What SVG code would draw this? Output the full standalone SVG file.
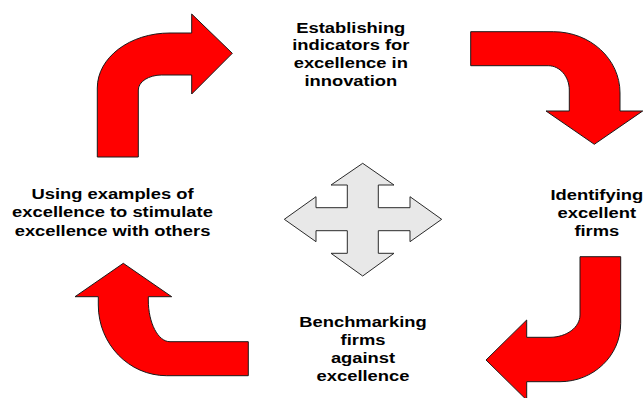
<svg xmlns="http://www.w3.org/2000/svg" width="644" height="398" viewBox="0 0 644 398">
  <style>
    .bend { fill: #ff0000; stroke: #1a1a1a; stroke-width: 1; stroke-linejoin: miter; }
    .hub { fill: #e8e8e8; stroke: #2a2a2a; stroke-width: 1; }
    .label { font-family: "Liberation Sans", Arial, sans-serif; font-weight: bold; font-size: 15.3px; fill: #000; text-anchor: middle; }
  </style>
  <rect width="644" height="398" fill="#ffffff"/>

  <!-- curved arrows linking the four stages -->
  <g id="connectors">
    <path id="arrow-top-left" class="bend" d="M97.3,157 L97.3,88 C97.3,57.6 129.7,33 170,33 L191.7,33 L191.7,14 L232.3,53.3 L191.7,94 L191.7,75 L161.7,75 C148.8,75 138.3,81.7 138.3,90 L138.3,157 Z"/>
    <path id="arrow-top-right" class="bend" d="M470.7,31.7 L553.3,31.7 C590.3,31.7 620,59 620,93 L620,111 L642.7,111 L594.3,144.3 L546,111 L569.3,111 L569.3,90 C569.3,76.6 559.9,65.7 548.3,65.7 L470.7,65.7 Z"/>
    <path id="arrow-bottom-right" class="bend" d="M580,256.7 L620.7,256.7 L620.7,323.3 C620.7,355.6 593.5,381.7 560,381.7 L526.7,381.7 L526.7,400 L486,360 L526.7,320 L526.7,337.3 L550,337.3 C566.6,337.3 580,327.3 580,315 Z"/>
    <path id="arrow-bottom-left" class="bend" d="M248.3,375.7 L166.7,375.7 C128.9,375.7 98.3,344 98.3,305 L98.3,296.7 L75,296.7 L123.3,263.3 L171.7,296.7 L148.3,296.7 L148.3,300 C148.3,323 158,341.7 170,341.7 L248.3,341.7 Z"/>
  </g>

  <!-- four-way arrow in the middle -->
  <g id="hub">
    <path class="hub" d="M362.7,163.3 L394,185 L378.3,185 L378.3,207.7 L410,207.7 L410,196.7 L441.7,219.3 L410,241.7 L410,230.7 L378.3,230.7 L378.3,253.3 L394,253.3 L362.7,276 L331,253.3 L347.3,253.3 L347.3,230.7 L316,230.7 L316,241.7 L284.3,219.3 L316,196.7 L316,207.7 L347.3,207.7 L347.3,185 L331,185 Z"/>
  </g>

  <!-- stage labels: wide bold type, stretched about each block's centre -->
  <g id="stage-indicators" transform="translate(350.8,0) scale(1.2,1)">
    <text class="label" x="0" y="32.7">Establishing</text>
    <text class="label" x="0" y="50.5">indicators for</text>
    <text class="label" x="0" y="68.5">excellence in</text>
    <text class="label" x="0" y="86.5">innovation</text>
  </g>

  <g id="stage-identifying" transform="translate(596.8,0) scale(1.2,1)">
    <text class="label" x="0" y="200">Identifying</text>
    <text class="label" x="0" y="218">excellent</text>
    <text class="label" x="0" y="236">firms</text>
  </g>

  <g id="stage-benchmarking" transform="translate(363,0) scale(1.2,1)">
    <text class="label" x="0" y="326.7">Benchmarking</text>
    <text class="label" x="0" y="344.8">firms</text>
    <text class="label" x="0" y="362.9">against</text>
    <text class="label" x="0" y="381">excellence</text>
  </g>

  <g id="stage-examples" transform="translate(112.5,0) scale(1.2,1)">
    <text class="label" x="0" y="199.3">Using examples of</text>
    <text class="label" x="0" y="217.5">excellence to stimulate</text>
    <text class="label" x="0" y="235.7">excellence with others</text>
  </g>
</svg>
